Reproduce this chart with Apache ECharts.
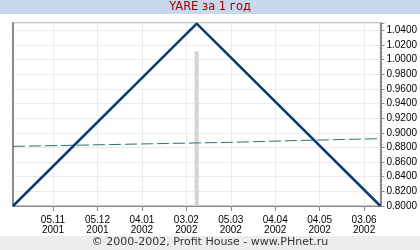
<!DOCTYPE html>
<html><head><meta charset="utf-8">
<script src="https://cdn.jsdelivr.net/npm/echarts@6/dist/echarts.min.js"></script>
<style>html,body{margin:0;padding:0;background:#fff}#c{width:420px;height:250px}</style>
</head><body><div id="c"></div>
<script>
var titleText = 'YARE за 1 год';
var footerText = '© 2000-2002, Profit House - www.PHnet.ru';
var startDate = '09.10.2001';
var endDate = '14.06.2002';
var tickLabels = ['05.11.2001','05.12.2001','04.01.2002','03.02.2002','05.03.2002','04.04.2002','04.05.2002','03.06.2002'];
var priceDates = ['09.10.2001','10.02.2002','14.06.2002'];
var priceValues = [0.800, 1.049, 0.800];
var avgDates = ['09.10.2001','20.11.2001','10.01.2002','05.03.2002','20.04.2002','14.06.2002'];
var avgValues = [0.8815, 0.8830, 0.8850, 0.8870, 0.8895, 0.8920];
var barDates = ['10.02.2002'];
var barValues = [1.011];

function parseD(s){var p=s.split('.');return new Date(Date.UTC(+p[2],+p[1]-1,+p[0]));}
function fmtD(d){function z(n){return (n<10?'0':'')+n;}return z(d.getUTCDate())+'.'+z(d.getUTCMonth()+1)+'.'+d.getUTCFullYear();}
var days = [];
for (var d = parseD(startDate); d <= parseD(endDate); d = new Date(d.getTime()+86400000)) days.push(fmtD(d));
function showTick(i, v){ return tickLabels.indexOf(v) >= 0; }
function pairs(a,b){return a.map(function(x,i){return [x,b[i]];});}

var chart = echarts.init(document.getElementById('c'), null, {renderer:'canvas'});
chart.setOption({
  animation:false,
  graphic:[
    {type:'rect',shape:{x:0,y:0,width:420,height:14},style:{fill:'#c6d9ec'},z:-1},
    {type:'rect',shape:{x:0,y:236,width:420,height:14},style:{fill:'#ececec'},z:-1},
    {type:'text',left:'center',top:1,style:{text:titleText,fill:'#a00000',font:'11.5px "DejaVu Sans"'}},
    {type:'text',left:'center',top:237,style:{text:footerText,fill:'#333333',font:'11px "DejaVu Sans"'}}
  ],
  grid:{left:13,right:38,top:23,bottom:44,show:true,borderColor:'#8a8a8a',borderWidth:1,backgroundColor:'#ffffff'},
  xAxis:{type:'category',data:days,boundaryGap:false,
    axisLine:{lineStyle:{color:'#8a8a8a',width:1}},
    axisTick:{show:true,interval:showTick,length:5,lineStyle:{color:'#8a8a8a'}},
    axisLabel:{interval:showTick,color:'#000',fontFamily:'Liberation Sans',fontSize:10,lineHeight:10,margin:9,
      formatter:function(v){var p=v.split('.');return p[0]+'.'+p[1]+'\n'+p[2];}},
    splitLine:{show:true,interval:showTick,lineStyle:{color:'#ebebeb',width:1}}
  },
  yAxis:[
    {type:'value',position:'right',min:0.8,max:1.05,interval:0.02,
     axisLine:{show:true,lineStyle:{color:'#8a8a8a',width:2}},
     axisTick:{show:true,length:4,lineStyle:{color:'#8a8a8a'}},
     minorTick:{show:true,splitNumber:4,length:2,lineStyle:{color:'#8a8a8a'}},
     axisLabel:{color:'#000',fontFamily:'Liberation Sans',fontSize:10,margin:6,showMaxLabel:false,
       formatter:function(v){return v.toFixed(4);}},
     splitLine:{show:true,lineStyle:{color:'#ebebeb',width:1}}},
    {type:'value',position:'left',min:0.8,max:1.05,interval:0.02,
     axisLine:{show:true,lineStyle:{color:'#8a8a8a',width:2}},
     axisTick:{show:false},axisLabel:{show:false},splitLine:{show:false}}
  ],
  series:[
    {type:'bar',data:pairs(barDates,barValues),barWidth:4,itemStyle:{color:'#d4d4d4'},z:1},
    {type:'line',data:pairs(avgDates,avgValues),symbol:'none',lineStyle:{color:'#2a7474',width:1,type:[12,4]},z:2},
    {type:'line',data:pairs(priceDates,priceValues),symbol:'none',lineStyle:{color:'#0c3b70',width:2.5},z:3}
  ]
});
</script></body></html>
